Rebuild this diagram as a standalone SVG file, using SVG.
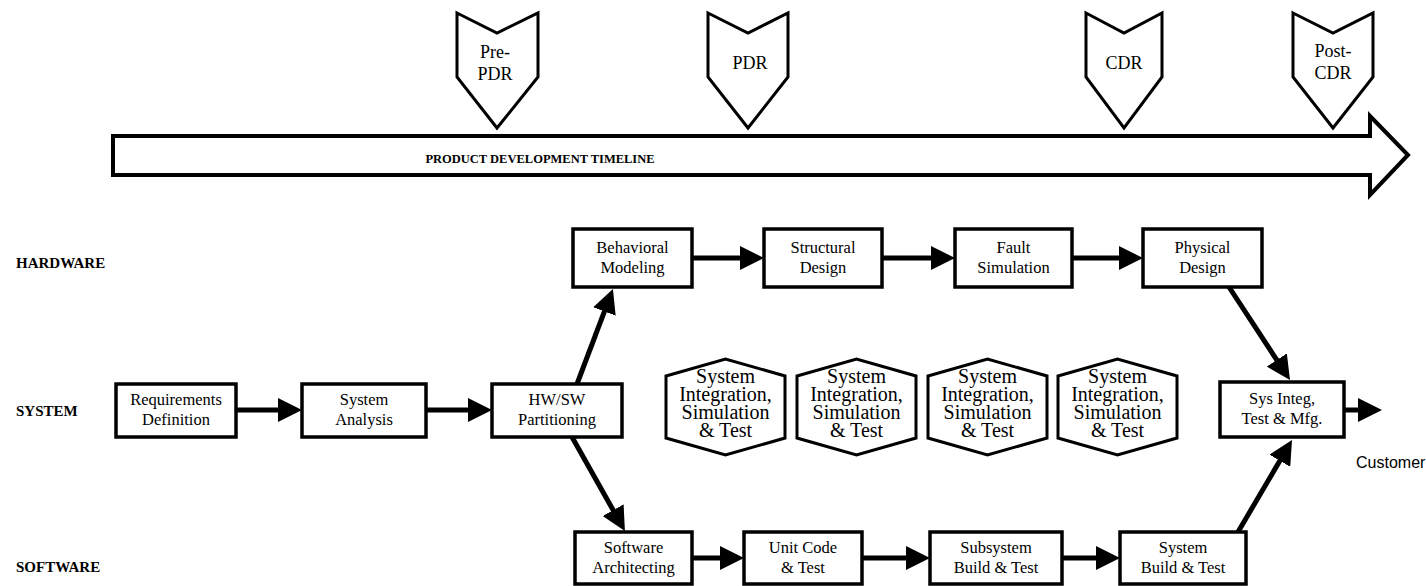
<svg xmlns="http://www.w3.org/2000/svg" width="1426" height="586" viewBox="0 0 1426 586">
  <defs>
    <style>
      .box{fill:#fff;stroke:#000;stroke-width:3.5}
      .ms{fill:#fff;stroke:#000;stroke-width:3;stroke-linejoin:miter}
      .hex{fill:#fff;stroke:#000;stroke-width:3;stroke-linejoin:miter}
      .tlbar{fill:#fff;stroke:#000;stroke-width:4;stroke-linejoin:miter}
      .t{font-family:"Liberation Serif","Times New Roman",serif;font-size:16.5px;fill:#000;text-anchor:middle}
      .mt{font-family:"Liberation Serif","Times New Roman",serif;font-size:18px;fill:#000;text-anchor:middle}
      .ht{font-family:"Liberation Serif","Times New Roman",serif;font-size:20px;fill:#000;text-anchor:middle}
      .lbl{font-family:"Liberation Serif","Times New Roman",serif;font-size:15px;font-weight:bold;fill:#000}
      .tltext{font-family:"Liberation Serif","Times New Roman",serif;font-size:12.5px;font-weight:bold;fill:#000;text-anchor:middle}
      .cust{font-family:"Liberation Sans",Arial,sans-serif;font-size:16px;fill:#000}
      .conn{stroke:#000;stroke-width:5;fill:none;marker-end:url(#ah)}
    </style>
    <marker id="ah" markerUnits="userSpaceOnUse" markerWidth="24" markerHeight="24" refX="4" refY="12" orient="auto">
      <path d="M0,0 L24,12 L0,24 Z" fill="#000"/>
    </marker>
  </defs>

  <rect width="1426" height="586" fill="#fff"/>

  <!-- milestone markers -->
  <g id="ms-prepdr">
    <polygon class="ms" points="457,13 497,33 538,13 538,77 497,128 457,77"/>
    <text class="mt" x="495" y="58">Pre-</text>
    <text class="mt" x="495" y="80">PDR</text>
  </g>
  <g id="ms-pdr">
    <polygon class="ms" points="708,13 748,33 788,13 788,77 748,128 708,77"/>
    <text class="mt" x="750" y="69">PDR</text>
  </g>
  <g id="ms-cdr">
    <polygon class="ms" points="1086,13 1124,33 1162,13 1162,77 1124,128 1086,77"/>
    <text class="mt" x="1124" y="69">CDR</text>
  </g>
  <g id="ms-postcdr">
    <polygon class="ms" points="1293,13 1333,33 1373,13 1373,77 1333,128 1293,77"/>
    <text class="mt" x="1333" y="57">Post-</text>
    <text class="mt" x="1333" y="79">CDR</text>
  </g>

  <!-- timeline arrow -->
  <g id="timeline">
    <path class="tlbar" d="M113,136 H1370 V116 L1408,155 L1370,195 V175 H113 Z"/>
    <text class="tltext" x="540" y="163">PRODUCT DEVELOPMENT TIMELINE</text>
  </g>

  <!-- row labels -->
  <g id="row-labels">
    <text class="lbl" x="16" y="268">HARDWARE</text>
    <text class="lbl" x="16" y="416">SYSTEM</text>
    <text class="lbl" x="16" y="572">SOFTWARE</text>
  </g>

  <!-- system row -->
  <g id="req-def">
    <rect class="box" x="116" y="384" width="120" height="53"/>
    <text class="t" x="176" y="405">Requirements</text>
    <text class="t" x="176" y="425">Definition</text>
  </g>
  <g id="sys-analysis">
    <rect class="box" x="302" y="384" width="124" height="53"/>
    <text class="t" x="364" y="405">System</text>
    <text class="t" x="364" y="425">Analysis</text>
  </g>
  <g id="hwsw-part">
    <rect class="box" x="492" y="384" width="130" height="53"/>
    <text class="t" x="557" y="405">HW/SW</text>
    <text class="t" x="557" y="425">Partitioning</text>
  </g>
  <g id="sys-integ">
    <rect class="box" x="1220" y="382" width="124" height="55"/>
    <text class="t" x="1282" y="404">Sys Integ,</text>
    <text class="t" x="1282" y="424">Test &amp; Mfg.</text>
  </g>

  <!-- integration checkpoints -->
  <g id="sit-1">
    <polygon class="hex" points="666,376 725.5,359 785,376 785,438 725.5,455 666,438"/>
    <text class="ht" x="725.5" y="383">System</text>
    <text class="ht" x="725.5" y="401">Integration,</text>
    <text class="ht" x="725.5" y="419">Simulation</text>
    <text class="ht" x="725.5" y="437">&amp; Test</text>
  </g>
  <g id="sit-2">
    <polygon class="hex" points="797,376 856.5,359 916,376 916,438 856.5,455 797,438"/>
    <text class="ht" x="856.5" y="383">System</text>
    <text class="ht" x="856.5" y="401">Integration,</text>
    <text class="ht" x="856.5" y="419">Simulation</text>
    <text class="ht" x="856.5" y="437">&amp; Test</text>
  </g>
  <g id="sit-3">
    <polygon class="hex" points="928,376 987.5,359 1047,376 1047,438 987.5,455 928,438"/>
    <text class="ht" x="987.5" y="383">System</text>
    <text class="ht" x="987.5" y="401">Integration,</text>
    <text class="ht" x="987.5" y="419">Simulation</text>
    <text class="ht" x="987.5" y="437">&amp; Test</text>
  </g>
  <g id="sit-4">
    <polygon class="hex" points="1058,376 1117.5,359 1177,376 1177,438 1117.5,455 1058,438"/>
    <text class="ht" x="1117.5" y="383">System</text>
    <text class="ht" x="1117.5" y="401">Integration,</text>
    <text class="ht" x="1117.5" y="419">Simulation</text>
    <text class="ht" x="1117.5" y="437">&amp; Test</text>
  </g>

  <!-- hardware row -->
  <g id="behav-model">
    <rect class="box" x="573" y="229" width="119" height="58"/>
    <text class="t" x="632.5" y="253">Behavioral</text>
    <text class="t" x="632.5" y="273">Modeling</text>
  </g>
  <g id="struct-design">
    <rect class="box" x="764" y="229" width="118" height="58"/>
    <text class="t" x="823" y="253">Structural</text>
    <text class="t" x="823" y="273">Design</text>
  </g>
  <g id="fault-sim">
    <rect class="box" x="955" y="229" width="117" height="58"/>
    <text class="t" x="1013.5" y="253">Fault</text>
    <text class="t" x="1013.5" y="273">Simulation</text>
  </g>
  <g id="phys-design">
    <rect class="box" x="1143" y="229" width="119" height="58"/>
    <text class="t" x="1202.5" y="253">Physical</text>
    <text class="t" x="1202.5" y="273">Design</text>
  </g>

  <!-- software row -->
  <g id="sw-arch">
    <rect class="box" x="575" y="532" width="117" height="52"/>
    <text class="t" x="633.5" y="553">Software</text>
    <text class="t" x="633.5" y="573">Architecting</text>
  </g>
  <g id="unit-code">
    <rect class="box" x="744" y="532" width="118" height="52"/>
    <text class="t" x="803" y="553">Unit Code</text>
    <text class="t" x="803" y="573">&amp; Test</text>
  </g>
  <g id="subsys-build">
    <rect class="box" x="930" y="532" width="132" height="52"/>
    <text class="t" x="996" y="553">Subsystem</text>
    <text class="t" x="996" y="573">Build &amp; Test</text>
  </g>
  <g id="sys-build">
    <rect class="box" x="1120" y="532" width="126" height="52"/>
    <text class="t" x="1183" y="553">System</text>
    <text class="t" x="1183" y="573">Build &amp; Test</text>
  </g>

  <g id="customer">
    <text class="cust" x="1356" y="468">Customer</text>
  </g>

  <!-- connectors -->
  <g id="connectors">
    <line class="conn" x1="236" y1="410" x2="282" y2="410"/>
    <line class="conn" x1="426" y1="410" x2="472" y2="410"/>
    <line class="conn" x1="577" y1="384" x2="605.85" y2="307.67"/>
    <line class="conn" x1="572" y1="437" x2="615.1" y2="513.6"/>
    <line class="conn" x1="692" y1="258" x2="744" y2="258"/>
    <line class="conn" x1="882" y1="258" x2="935" y2="258"/>
    <line class="conn" x1="1072" y1="258" x2="1123" y2="258"/>
    <line class="conn" x1="1229" y1="287" x2="1279" y2="363.3"/>
    <line class="conn" x1="692" y1="558" x2="724" y2="558"/>
    <line class="conn" x1="862" y1="558" x2="910" y2="558"/>
    <line class="conn" x1="1062" y1="558" x2="1100" y2="558"/>
    <line class="conn" x1="1238" y1="532" x2="1281.9" y2="457.25"/>
    <line class="conn" x1="1344" y1="410" x2="1362" y2="410"/>
  </g>
</svg>
